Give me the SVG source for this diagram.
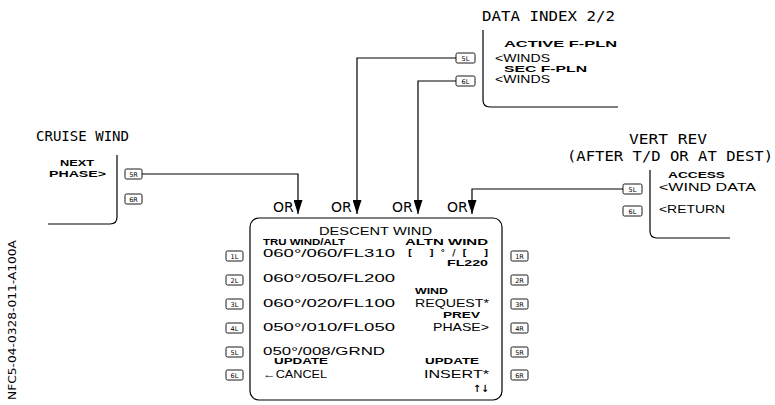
<svg xmlns="http://www.w3.org/2000/svg" width="775" height="405" viewBox="0 0 775 405">
<style>
  .bg{fill:#fff}
  .t{font-family:"Liberation Sans",Arial,sans-serif;fill:#000}
  .big{font-size:11px}
  .sm{font-size:8.2px;font-weight:bold}
  .brk{font-family:"DejaVu Sans",sans-serif;font-size:9px;font-weight:bold;fill:#000}
  .arw{font-family:"DejaVu Sans",sans-serif;font-size:10px;font-weight:bold;fill:#000}
  .title{font-family:"DejaVu Sans Mono",monospace;font-size:14.5px;fill:#000}
  .or{font-family:"DejaVu Sans",sans-serif;font-size:14px;fill:#000}
  .key rect{fill:#fff;stroke:#000;stroke-width:0.9}
  .key text{font-family:"DejaVu Sans",sans-serif;font-size:6.5px;fill:#000;text-anchor:middle}
  .conn path{fill:none;stroke:#000;stroke-width:1.2}
  .frame{fill:none;stroke:#000;stroke-width:1.2}
  .ref{font-family:"DejaVu Sans",sans-serif;font-size:10.5px;fill:#000}
</style>
<defs>
  <marker id="arr" viewBox="0 0 14 9" refX="14" refY="4.5" markerWidth="14" markerHeight="9" markerUnits="userSpaceOnUse" orient="auto">
    <path d="M0,0 L14,4.5 L0,9 z" fill="#000"/>
  </marker>
</defs>
<rect class="bg" width="775" height="405"/>

<text class="ref" transform="translate(16,400) rotate(-90)" textLength="160" lengthAdjust="spacingAndGlyphs">NFC5-04-0328-011-A100A</text>

<!-- CRUISE WIND page -->
<g id="cruise-wind">
  <text class="title" x="36" y="141" textLength="93" lengthAdjust="spacingAndGlyphs">CRUISE WIND</text>
  <path class="frame" d="M117,155 V217 Q117,224 110,224 H48"/>
  <text class="t sm" x="60" y="166" textLength="34" lengthAdjust="spacingAndGlyphs">NEXT</text>
  <text class="t sm" x="49" y="177" textLength="57" lengthAdjust="spacingAndGlyphs">PHASE&gt;</text>
  <g class="key"><rect x="125" y="169" width="17" height="10" rx="1.5"/><text x="133.5" y="176.5">5R</text></g>
  <g class="key"><rect x="125" y="194" width="17" height="10" rx="1.5"/><text x="133.5" y="201.5">6R</text></g>
</g>

<!-- DATA INDEX page -->
<g id="data-index">
  <text class="title" x="482" y="21" textLength="133" lengthAdjust="spacingAndGlyphs">DATA INDEX 2/2</text>
  <path class="frame" d="M483,30 V100 Q483,107 490,107 H618"/>
  <text class="t sm" x="504" y="47" textLength="113" lengthAdjust="spacingAndGlyphs">ACTIVE F-PLN</text>
  <text class="t big" x="495" y="62" textLength="55" lengthAdjust="spacingAndGlyphs">&lt;WINDS</text>
  <text class="t sm" x="504" y="72" textLength="83" lengthAdjust="spacingAndGlyphs">SEC F-PLN</text>
  <text class="t big" x="495" y="83" textLength="55" lengthAdjust="spacingAndGlyphs">&lt;WINDS</text>
  <g class="key"><rect x="456" y="53" width="19" height="10" rx="1.5"/><text x="465.5" y="60.5">5L</text></g>
  <g class="key"><rect x="456" y="76" width="19" height="10" rx="1.5"/><text x="465.5" y="83.5">6L</text></g>
</g>

<!-- VERT REV page -->
<g id="vert-rev">
  <text class="title" x="629" y="144" textLength="78" lengthAdjust="spacingAndGlyphs">VERT REV</text>
  <text class="title" x="567" y="161" textLength="206" lengthAdjust="spacingAndGlyphs">(AFTER T/D OR AT DEST)</text>
  <path class="frame" d="M650,170 V231 Q650,238 657,238 H730"/>
  <text class="t sm" x="668" y="178" textLength="57" lengthAdjust="spacingAndGlyphs">ACCESS</text>
  <text class="t big" x="659" y="191" textLength="97" lengthAdjust="spacingAndGlyphs">&lt;WIND DATA</text>
  <text class="t big" x="659" y="213" textLength="66" lengthAdjust="spacingAndGlyphs">&lt;RETURN</text>
  <g class="key"><rect x="623" y="184" width="19" height="10" rx="1.5"/><text x="632.5" y="191.5">5L</text></g>
  <g class="key"><rect x="623" y="206" width="19" height="10" rx="1.5"/><text x="632.5" y="213.5">6L</text></g>
</g>

<!-- DESCENT WIND page -->
<g id="descent-wind">
  <rect class="frame" x="250" y="218" width="252" height="182" rx="9"/>
  <text class="t big" x="319" y="235" textLength="113" lengthAdjust="spacingAndGlyphs">DESCENT WIND</text>
  <text class="t sm" x="263" y="245" textLength="82" lengthAdjust="spacingAndGlyphs">TRU WIND/ALT</text>
  <text class="t sm" x="405" y="245" textLength="83" lengthAdjust="spacingAndGlyphs">ALTN WIND</text>
  <text class="t big" x="263" y="257" textLength="132" lengthAdjust="spacingAndGlyphs">060°/060/FL310</text>
  <text class="brk" x="408" y="256" textLength="80" lengthAdjust="spacing">[ ]°/[ ]</text>
  <text class="t sm" x="447" y="266" textLength="41" lengthAdjust="spacingAndGlyphs">FL220</text>
  <text class="t big" x="263" y="282" textLength="132" lengthAdjust="spacingAndGlyphs">060°/050/FL200</text>
  <text class="t sm" x="415" y="294" textLength="33" lengthAdjust="spacingAndGlyphs">WIND</text>
  <text class="t big" x="263" y="307" textLength="132" lengthAdjust="spacingAndGlyphs">060°/020/FL100</text>
  <text class="t big" x="415" y="307" textLength="74" lengthAdjust="spacingAndGlyphs">REQUEST*</text>
  <text class="t sm" x="443" y="318" textLength="37" lengthAdjust="spacingAndGlyphs">PREV</text>
  <text class="t big" x="263" y="331" textLength="132" lengthAdjust="spacingAndGlyphs">050°/010/FL050</text>
  <text class="t big" x="433" y="331" textLength="56" lengthAdjust="spacingAndGlyphs">PHASE&gt;</text>
  <text class="t big" x="263" y="355" textLength="122" lengthAdjust="spacingAndGlyphs">050°/008/GRND</text>
  <text class="t sm" x="274" y="364" textLength="54" lengthAdjust="spacingAndGlyphs">UPDATE</text>
  <text class="t sm" x="425" y="364" textLength="54" lengthAdjust="spacingAndGlyphs">UPDATE</text>
  <text class="t big" x="263" y="378" textLength="64" lengthAdjust="spacingAndGlyphs">←CANCEL</text>
  <text class="t big" x="424" y="378" textLength="65" lengthAdjust="spacingAndGlyphs">INSERT*</text>
  <text class="arw" x="473" y="392" textLength="16" lengthAdjust="spacingAndGlyphs">↑↓</text>
  <g class="key"><rect x="226" y="251" width="17" height="10" rx="1.5"/><text x="234.5" y="258.5">1L</text></g>
  <g class="key"><rect x="226" y="275" width="17" height="10" rx="1.5"/><text x="234.5" y="282.5">2L</text></g>
  <g class="key"><rect x="226" y="299" width="17" height="10" rx="1.5"/><text x="234.5" y="306.5">3L</text></g>
  <g class="key"><rect x="226" y="323" width="17" height="10" rx="1.5"/><text x="234.5" y="330.5">4L</text></g>
  <g class="key"><rect x="226" y="347" width="17" height="10" rx="1.5"/><text x="234.5" y="354.5">5L</text></g>
  <g class="key"><rect x="226" y="370" width="17" height="10" rx="1.5"/><text x="234.5" y="377.5">6L</text></g>
  <g class="key"><rect x="511" y="251" width="17" height="10" rx="1.5"/><text x="519.5" y="258.5">1R</text></g>
  <g class="key"><rect x="511" y="275" width="17" height="10" rx="1.5"/><text x="519.5" y="282.5">2R</text></g>
  <g class="key"><rect x="511" y="299" width="17" height="10" rx="1.5"/><text x="519.5" y="306.5">3R</text></g>
  <g class="key"><rect x="511" y="323" width="17" height="10" rx="1.5"/><text x="519.5" y="330.5">4R</text></g>
  <g class="key"><rect x="511" y="347" width="17" height="10" rx="1.5"/><text x="519.5" y="354.5">5R</text></g>
  <g class="key"><rect x="511" y="370" width="17" height="10" rx="1.5"/><text x="519.5" y="377.5">6R</text></g>
</g>

<!-- connectors -->
<g id="connectors" class="conn">
  <path d="M142,174 H298 V214" marker-end="url(#arr)"/>
  <path d="M456,58 H357 V214" marker-end="url(#arr)"/>
  <path d="M456,81 H418 V214" marker-end="url(#arr)"/>
  <path d="M623,189 H472 V214" marker-end="url(#arr)"/>
  <text class="or" x="273" y="212">OR</text>
  <text class="or" x="331" y="212">OR</text>
  <text class="or" x="392" y="212">OR</text>
  <text class="or" x="447" y="212">OR</text>
</g>
</svg>
